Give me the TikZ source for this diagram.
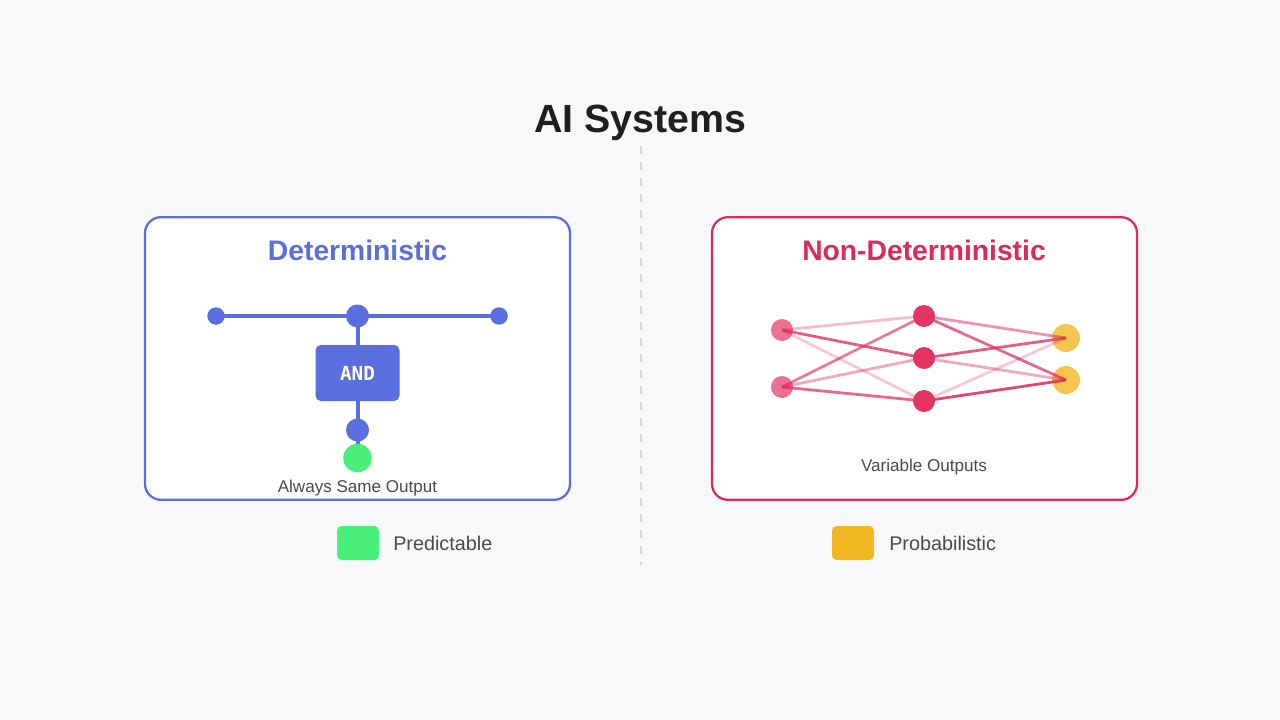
\documentclass[tikz,border=0pt]{standalone}
\usepackage{fontspec}
\setmainfont{Liberation Sans}
\newfontfamily\andfont{DejaVu Sans Mono}
\definecolor{bgc}{HTML}{F7F8FA}
\definecolor{bluec}{HTML}{5A6EDE}
\definecolor{redc}{HTML}{E63462}
\definecolor{redb}{HTML}{DC2A5A}
\definecolor{edgec}{HTML}{DC2A5A}
\definecolor{greenc}{HTML}{4AEE7A}
\definecolor{yellowc}{HTML}{F2B823}
\definecolor{inkc}{HTML}{1F1F1F}
\definecolor{textc}{HTML}{4A4A4A}
\definecolor{dashc}{HTML}{D2D3D6}
\tikzset{
  x=0.75pt,y=-0.75pt,
  dotn/.style={circle,draw=none,inner sep=0pt,minimum size=#1*0.75pt},
  panel/.style={draw=#1,fill=white,line width=1.7pt,rounded corners=12pt,minimum width=318.75pt,minimum height=212pt,inner sep=0pt},
  wire/.style={draw=bluec,line width=3pt},
  edge/.style={draw=edgec,line width=2.1pt,opacity=#1},
  lab/.style={text=textc,inner sep=0pt},
  head/.style={font=\bfseries\fontsize{21.2}{25}\selectfont,inner sep=0pt},
  swatch/.style={fill=#1,draw=none,rounded corners=3.5pt,minimum width=31.5pt,minimum height=25.5pt,inner sep=0pt}
}
\begin{document}
\begin{tikzpicture}
\useasboundingbox[fill=bgc] (0,0) rectangle (1280,720);
\node[font=\bfseries\fontsize{29.5}{34}\selectfont,text=inkc,inner sep=0pt] (title) at (640.5,123) {AI Systems};
\coordinate (dtop) at (641,146);
\coordinate (dbot) at (641,565);
\draw[dashc,line width=1.6pt,dash pattern=on 6pt off 6pt] (dtop) -- (dbot);
% panels
\node[panel=bluec] (pl) at (357.5,358.5) {};
\node[panel=redb] (pr) at (924.5,358.5) {};
\node[head,text=bluec] (hl) at (357.5,250) {Deterministic};
\node[head,text=redb] (hr) at (924,250) {Non-Deterministic};
% left circuit
\node[dotn=17.5,fill=bluec] (a) at (216,316) {};
\node[dotn=23,fill=bluec] (b) at (357.5,316) {};
\node[dotn=17.5,fill=bluec] (c) at (499,316) {};
\node[fill=bluec,rounded corners=4pt,minimum width=63pt,minimum height=42pt,inner sep=0pt] (and) at (357.5,373) {};
\node[dotn=23,fill=bluec] (d) at (357.5,430) {};
\draw[wire] (a.center) -- (b.center);
\draw[wire] (b.center) -- (c.center);
\draw[wire] (b.center) -- (and.center);
\draw[wire] (and.center) -- (d.center);
\draw[wire] (d.center) -- (357.5,458);
\node[dotn=28.5,fill=greenc] (e) at (357.5,458) {};
\node[inner sep=0pt,text=white,font=\andfont\bfseries\fontsize{14.5}{18}\selectfont] (andt) at (357.5,373.5) {AND};
\node[lab,font=\fontsize{12.8}{15}\selectfont] (tl) at (357.5,488) {Always Same Output};
% network
\node[dotn=22,fill=redc,fill opacity=.7] (l1) at (782,330) {};
\node[dotn=22,fill=redc,fill opacity=.7] (l2) at (782,387) {};
\node[dotn=28,fill=yellowc,fill opacity=.8] (r1) at (1066,338) {};
\node[dotn=28,fill=yellowc,fill opacity=.8] (r2) at (1066,380) {};
\coordinate (m1) at (924,316);
\coordinate (m2) at (924,358);
\coordinate (m3) at (924,401);
\draw[edge=.3] (l1.center) -- (m1);
\draw[edge=.75] (l1.center) -- (m2);
\draw[edge=.25] (l1.center) -- (m3);
\draw[edge=.6] (l2.center) -- (m1);
\draw[edge=.4] (l2.center) -- (m2);
\draw[edge=.7] (l2.center) -- (m3);
\draw[edge=.5] (m1) -- (r1.center);
\draw[edge=.7] (m1) -- (r2.center);
\draw[edge=.75] (m2) -- (r1.center);
\draw[edge=.4] (m2) -- (r2.center);
\draw[edge=.25] (m3) -- (r1.center);
\draw[edge=.85] (m3) -- (r2.center);
\node[dotn=22,fill=redc] (n1) at (m1) {};
\node[dotn=22,fill=redc] (n2) at (m2) {};
\node[dotn=22,fill=redc] (n3) at (m3) {};
\node[lab,font=\fontsize{12.8}{15}\selectfont] (tr) at (924,467) {Variable Outputs};
% legend
\node[swatch=greenc] (sg) at (358,543) {};
\node[lab,anchor=west,font=\fontsize{14.85}{18}\selectfont] (tg) at (393,543) {Predictable};
\node[swatch=yellowc] (sy) at (853,543) {};
\node[lab,anchor=west,font=\fontsize{14.85}{18}\selectfont] (ty) at (889,543) {Probabilistic};
\end{tikzpicture}
\end{document}
